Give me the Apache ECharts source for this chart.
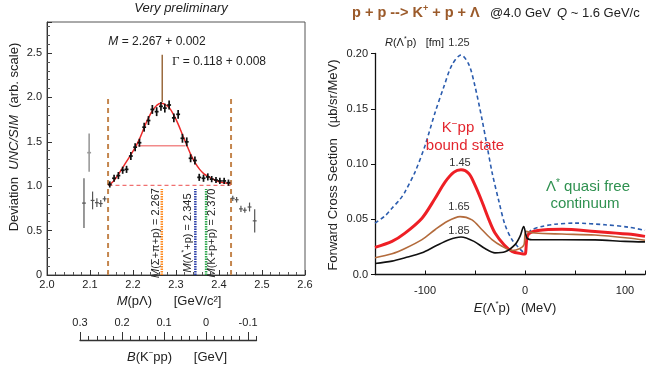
<!DOCTYPE html>
<html><head><meta charset="utf-8">
<script src="https://cdn.jsdelivr.net/npm/echarts@6/dist/echarts.min.js"></script>
<style>html,body{margin:0;padding:0;background:#fff}#c{width:654px;height:369px}</style>
</head><body><div id="c"></div>
<script>
// ---------- Left panel: M(pΛ) deviation ----------
const massTicks = [2.0, 2.1, 2.2, 2.3, 2.4, 2.5, 2.6];
const massIn = [2.146,2.156,2.166,2.176,2.185,2.195,2.205,2.215,2.226,2.236,2.245,2.255,2.265,2.274,2.284,2.295,2.305,2.315,2.325,2.334,2.344,2.354,2.364,2.374,2.383,2.393,2.402,2.412,2.422];
const devIn  = [1.02,1.09,1.12,1.18,1.19,1.34,1.44,1.49,1.665,1.74,1.865,1.84,1.90,1.88,1.915,1.77,1.81,1.54,1.50,1.315,1.29,1.10,1.09,1.105,1.08,1.07,1.06,1.06,1.04];
const errIn  = [0.035,0.04,0.04,0.04,0.04,0.045,0.045,0.045,0.05,0.05,0.05,0.05,0.05,0.05,0.05,0.05,0.05,0.05,0.05,0.045,0.045,0.04,0.04,0.04,0.035,0.035,0.035,0.035,0.035];
const massOut = [2.086,2.106,2.116,2.125,2.134,2.432,2.441,2.451,2.460,2.471,2.483];
const devOut  = [0.81,0.84,0.815,0.805,0.858,0.864,0.848,0.745,0.73,0.766,0.61];
const errOut  = [0.28,0.10,0.05,0.04,0.03,0.03,0.03,0.035,0.03,0.05,0.13];
const massFaint = [2.098];
const devFaint  = [1.378];
const errFaint  = [0.215];
const fitMass = [2.143,2.155,2.167,2.18,2.193,2.2055,2.215,2.226,2.235,2.245,2.255,2.265,2.275,2.285,2.295,2.305,2.315,2.325,2.335,2.345,2.355,2.365,2.375,2.386,2.40,2.412,2.427];
const fitDev  = [1.01,1.06,1.14,1.24,1.34,1.44,1.53,1.66,1.76,1.85,1.91,1.935,1.92,1.88,1.80,1.70,1.58,1.465,1.35,1.26,1.19,1.14,1.11,1.08,1.05,1.04,1.03];
const halfMax = [[2.211,1.457],[2.322,1.457]];
const baseline = [[2.143,1.01],[2.427,1.01]];
const windowEdges = [2.142, 2.428];
const windowTop = 2.0;
const peakMark = [[2.268,1.95],[2.268,2.48]];
const thresholdMass = [2.267, 2.345, 2.370];
const thresholdTop = 0.97;
// ---------- Secondary axis B(K-pp) ----------
const bindingTicks = [-0.1, 0, 0.1, 0.2, 0.3];
// ---------- Right panel: forward cross section ----------
const xsR125 = [[-150,0.0465],[-140,0.053],[-133,0.060],[-125,0.068],[-120,0.0748],[-110,0.0927],[-100,0.1166],[-90,0.1464],[-81,0.1703],[-73,0.1897],[-64,0.1987],[-56,0.1897],[-50,0.1703],[-43,0.1405],[-38,0.1166],[-33,0.0927],[-26,0.0658],[-20,0.045],[-13,0.0315],[-6,0.024],[-1,0.0196],[0.5,0.019],[2,0.036],[7,0.0405],[17,0.0435],[30,0.0455],[50,0.0465],[80,0.045],[103,0.0429],[120,0.040]];
const xsR145 = [[-150,0.0246],[-133,0.030],[-120,0.0375],[-103,0.051],[-90,0.0688],[-80,0.0837],[-71,0.0927],[-64,0.0948],[-56,0.0912],[-50,0.0808],[-43,0.0658],[-36,0.0494],[-30,0.0375],[-21,0.027],[-13,0.021],[-3,0.0187],[0,0.0185],[3,0.036],[13,0.0398],[37,0.041],[70,0.039],[103,0.0366],[120,0.0345]];
const xsR165 = [[-150,0.0151],[-133,0.0187],[-120,0.0235],[-103,0.0315],[-90,0.0405],[-78,0.048],[-65,0.0524],[-53,0.0494],[-43,0.0405],[-33,0.0315],[-23,0.0255],[-13,0.0217],[-5,0.0235],[-1,0.027],[1,0.039],[10,0.0375],[37,0.0366],[70,0.0357],[103,0.033],[120,0.031]];
const xsR185 = [[-150,0.010],[-133,0.0121],[-120,0.0151],[-103,0.0196],[-90,0.0255],[-76,0.0315],[-64,0.0339],[-51,0.030],[-40,0.0235],[-30,0.0196],[-20,0.0205],[-10,0.027],[-5,0.0345],[-1.3,0.0434],[2,0.033],[7,0.0315],[13,0.0315],[37,0.0315],[70,0.0313],[100,0.030],[120,0.0295]];
const radiusLabels = ['1.25','1.45','1.65','1.85'];

const FONT = '"Liberation Sans", Arial, Helvetica, sans-serif';
const TXT = '#222';

function richFor(size, color, weight) {
  return {
    i: {fontStyle:'italic', fontSize:size, fontFamily:FONT, fill:color, fontWeight:weight||'normal'},
    s: {fontSize:Math.round(size*0.65), fontFamily:FONT, fill:color, verticalAlign:'top', lineHeight:Math.round(size*0.7), fontWeight:weight||'normal'},
    g: {fontSize:size+1, fontFamily:'"Liberation Serif", "DejaVu Serif", serif', fill:color}
  };
}
function txt(x, y, text, o) {
  o = o || {};
  const size = o.size || 12, color = o.color || TXT;
  return {
    type:'text', x:x, y:y, rotation:o.rot || 0, z:100,
    style:{
      text:text, fontSize:size, fontFamily:FONT, fontStyle:o.italic?'italic':'normal',
      fontWeight:o.weight||'normal', fill:color,
      textAlign:o.align||'center', textVerticalAlign:'middle', lineHeight:size+3,
      rich:richFor(size, color, o.weight)
    }
  };
}

function errorBars(mass, dev, err, color, lw) {
  return {
    type:'custom', xAxisIndex:0, yAxisIndex:0, z:5,
    data: mass.map((m,i)=>[m, dev[i], err[i]]),
    encode:{x:0, y:1},
    renderItem:function(params, api){
      const x = api.value(0), y = api.value(1), e = api.value(2);
      const t = api.coord([x, y+e]), b = api.coord([x, y-e]);
      const l = api.coord([x-0.0045, y]), r = api.coord([x+0.0045, y]);
      const st = {stroke:color, lineWidth:lw};
      return {type:'group', children:[
        {type:'line', shape:{x1:t[0],y1:t[1],x2:b[0],y2:b[1]}, style:st},
        {type:'line', shape:{x1:l[0],y1:l[1],x2:r[0],y2:r[1]}, style:st}
      ]};
    }
  };
}
function seg(points, color, width, type, xi, yi, z) {
  return {type:'line', xAxisIndex:xi||0, yAxisIndex:yi||0, data:points, showSymbol:false, symbol:'none',
    lineStyle:{color:color, width:width, type:type||'solid'}, z:z||3, silent:true};
}

const series = [];
windowEdges.forEach(m => series.push(seg([[m,0],[m,windowTop]], '#c4864e', 2, [5,4])));
const thrColors = ['#ff8a1e', '#2b3fa8', '#2ea84e'];
thresholdMass.forEach((m,i) => series.push(seg([[m,0],[m,thresholdTop]], thrColors[i], 2.5, [1.5,1])));
series.push(seg(peakMark, '#9a6a3e', 1.5));
series.push(seg(baseline, '#f07070', 1.3, [4,3]));
series.push(seg(halfMax, '#f28a8a', 1.5));
series.push({type:'line', xAxisIndex:0, yAxisIndex:0, data:fitMass.map((m,i)=>[m,fitDev[i]]),
  smooth:0.4, showSymbol:false, symbol:'none', lineStyle:{color:'#ee2a2a', width:1.5}, z:4});
series.push(errorBars(massOut, devOut, errOut, '#555', 1.2));
series.push(errorBars(massFaint, devFaint, errFaint, '#9a9a9a', 1.6));
series.push(errorBars(massIn, devIn, errIn, '#111', 1.7));
const curveDefs = [
  [xsR125, '#2b5cae', 1.6, [4,3]],
  [xsR145, '#ee1f25', 3, 'solid'],
  [xsR165, '#b36b3c', 1.6, 'solid'],
  [xsR185, '#111111', 1.6, 'solid']
];
curveDefs.forEach(c => series.push({type:'line', xAxisIndex:2, yAxisIndex:2, data:c[0], smooth:0.3,
  showSymbol:false, symbol:'none', lineStyle:{color:c[1], width:c[2], type:c[3]}, z:3}));

const axisLbl = {color:TXT, fontSize:11, fontFamily:FONT};
const bLabel = function(v){ for (const b of bindingTicks) { if (Math.abs(v-b)<1e-6) return b===0?'0':b.toFixed(1); } return ''; };

const option = {
  animation:false,
  grid:[
    {left:47, top:22, width:258, height:253, show:true, borderColor:'#555', borderWidth:1},
    {left:80, top:300, width:176.5, height:40},
    {left:375, top:53.5, width:270, height:221}
  ],
  xAxis:[
    {gridIndex:0, type:'value', min:massTicks[0], max:massTicks[massTicks.length-1], interval:0.1,
     axisLine:{onZero:false, lineStyle:{color:'#333'}}, axisTick:{inside:true, length:5, lineStyle:{color:'#333'}},
     minorTick:{show:true, splitNumber:5, length:3, lineStyle:{color:'#555'}}, splitLine:{show:false},
     axisLabel:Object.assign({margin:4, formatter:v=>v.toFixed(1)}, axisLbl)},
    {gridIndex:1, type:'value', position:'bottom', inverse:true, min:-0.12, max:0.3, interval:0.02,
     axisLine:{onZero:false, lineStyle:{color:'#333', width:1.3}}, axisTick:{inside:true, length:4, lineStyle:{color:'#333'}},
     splitLine:{show:false},
     axisLabel:Object.assign({inside:true, margin:12, formatter:bLabel}, axisLbl)},
    {gridIndex:2, type:'value', min:-150, max:120, interval:50,
     axisLine:{onZero:false, lineStyle:{color:'#111', width:1.3}}, axisTick:{inside:true, length:4, lineStyle:{color:'#111'}},
     splitLine:{show:false},
     axisLabel:Object.assign({margin:11, formatter:v=>(Math.round(v)%100===0 && v>-150 && v<120)?String(Math.round(v)):''}, axisLbl)},
    {gridIndex:1, type:'value', position:'bottom', inverse:true, min:-0.12, max:0.3,
     axisLine:{show:false, onZero:false}, axisLabel:{show:false}, splitLine:{show:false},
     axisTick:{show:true, inside:true, length:8, customValues:bindingTicks, lineStyle:{color:'#333'}}}
  ],
  yAxis:[
    {gridIndex:0, type:'value', min:0, max:2.85, interval:0.5,
     axisLine:{onZero:false, lineStyle:{color:'#333'}}, axisTick:{inside:true, length:5, lineStyle:{color:'#333'}},
     minorTick:{show:true, splitNumber:5, length:3, lineStyle:{color:'#555'}}, splitLine:{show:false},
     axisLabel:Object.assign({margin:5, showMaxLabel:false, formatter:v=>v===0?'0':v.toFixed(1)}, axisLbl)},
    {gridIndex:1, type:'value', show:false, min:0, max:1},
    {gridIndex:2, type:'value', min:0, max:0.2, interval:0.05,
     axisLine:{show:true, onZero:false, lineStyle:{color:'#111', width:1.3}}, axisTick:{show:true, length:4, lineStyle:{color:'#111'}},
     splitLine:{show:false},
     axisLabel:Object.assign({margin:7, formatter:v=>v===0?'0.0':v.toFixed(2)}, axisLbl)}
  ],
  series:series,
  graphic:[
    txt(181, 8, 'Very preliminary', {size:13, italic:true}),
    txt(157, 42, '{i|M} = 2.267 + 0.002', {size:12}),
    txt(219, 62, '{g|Γ} = 0.118 + 0.008', {size:12}),
    txt(156, 233, '{i|M}(Σ+π+p) = 2.267', {size:11, rot:Math.PI/2}),
    txt(188, 233, '{i|M}(Λ{s|*}+p) = 2.345', {size:11, rot:Math.PI/2}),
    txt(212, 233, '{i|M}(K+p+p) = 2.370', {size:11, rot:Math.PI/2}),
    txt(14, 137, 'Deviation  {i|UNC/SIM}  (arb. scale)', {size:13, rot:Math.PI/2}),
    txt(169, 301, '{i|M}(pΛ)      [GeV/c²]', {size:13}),
    txt(177, 357, '{i|B}(K{s|−}pp)      [GeV]', {size:13}),
    txt(352, 13, 'p + p --> K{s|+} + p + Λ', {size:14.5, weight:'bold', color:'#9b5a2a', align:'left'}),
    txt(490, 13, '@4.0 GeV', {size:13, align:'left'}),
    txt(557, 13, '{i|Q} ~ 1.6 GeV/c', {size:13, align:'left'}),
    txt(385, 43, '{i|R}(Λ{s|*}p)   [fm]', {size:11, align:'left'}),
    txt(459, 43, radiusLabels[0], {size:11, color:'#333'}),
    txt(460, 163, radiusLabels[1], {size:11, color:'#333'}),
    txt(459, 207, radiusLabels[2], {size:11, color:'#333'}),
    txt(459, 231, radiusLabels[3], {size:11, color:'#333'}),
    txt(458, 128, 'K{s|−}pp', {size:15, color:'#e3262e'}),
    txt(465, 146, 'bound state', {size:15, color:'#e3262e'}),
    txt(588, 187, 'Λ{s|*} quasi free', {size:15, color:'#2f9150'}),
    txt(585, 204, 'continuum', {size:15, color:'#2f9150'}),
    txt(515, 308, '{i|E}(Λ{s|*}p)   (MeV)', {size:13}),
    txt(333, 165, 'Forward Cross Section   (µb/sr/MeV)', {size:13, rot:Math.PI/2})
  ]
};
const chart = echarts.init(document.getElementById('c'), null, {renderer:'canvas'});
chart.setOption(option);
</script></body></html>
